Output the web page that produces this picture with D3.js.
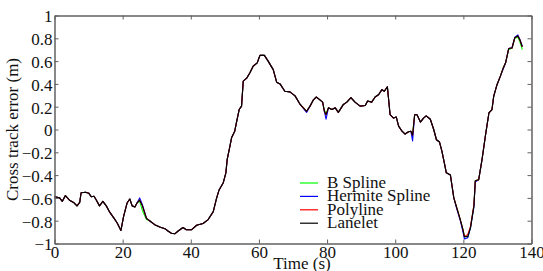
<!DOCTYPE html>
<html>
<head>
<meta charset="utf-8">
<script src="https://cdn.jsdelivr.net/npm/d3@7"></script>
<style>
  body { margin: 0; background: #fff; }
  svg { display: block; }
  text { font-family: "Liberation Serif", "DejaVu Serif", serif; }
</style>
</head>
<body>
<svg id="chart" width="543" height="271"></svg>
<script>
// time stamps (s), shared by all four series
const time = [0, 1.5, 2.3, 3.2, 4.4, 5.6, 6.6, 7.4, 7.8, 9.1, 10.1, 10.8, 11.6, 12.3, 13.2, 14.2, 15.2, 16.2, 17.4, 18.4,
  19.5, 20.3, 21.3, 22.1, 22.8, 23.6, 24.2, 25, 25.8, 27, 27.9, 29.4, 30.9, 32.4, 33.3, 34.3, 35.3, 36.3, 37.7, 38.7,
  40.2, 41.7, 43.6, 45.1, 46.6, 47.5, 48.3, 49.5, 50.3, 50.7, 51.3, 52, 52.9, 53.4, 54.2, 54.9, 55.4, 56.4, 57.4, 58.3,
  59.5, 60.3, 61.6, 62.7, 64.2, 65.2, 66.2, 67.6, 69.1, 70.6, 72.1, 74, 75, 76, 76.8, 77.9, 78.7, 79.2, 79.7, 80.4,
  81.4, 82.4, 83.3, 84.8, 85.8, 87, 88.2, 89.7, 91.2, 91.9, 93.1, 94.1, 95.1, 96.1, 96.8, 97.7, 98.5, 99.5, 100.3, 101,
  102, 102.9, 103.9, 104.6, 105.1, 105.7, 106.4, 107.4, 108.3, 109.1, 110.3, 111.3, 112.1, 113, 113.7, 114.4, 115, 116.2, 116.7, 117.2,
  118.1, 119.1, 119.9, 120.3, 121.3, 122.1, 123.1, 123.5, 124.5, 125.5, 126.5, 127.5, 128.4, 128.9, 129.9, 130.9, 131.7, 132.4, 133.3, 134.3,
  135.1, 136, 136.6, 137.3];

const bSpline = [-0.59, -0.6, -0.63, -0.58, -0.62, -0.64, -0.67, -0.64, -0.555, -0.55, -0.56, -0.59, -0.585, -0.62, -0.67, -0.63, -0.67, -0.725, -0.775, -0.82,
  -0.885, -0.76, -0.645, -0.61, -0.67, -0.68, -0.645, -0.63, -0.71, -0.79, -0.8, -0.835, -0.855, -0.87, -0.89, -0.91, -0.915, -0.89, -0.86, -0.88,
  -0.88, -0.84, -0.825, -0.79, -0.72, -0.61, -0.53, -0.47, -0.38, -0.26, -0.175, -0.07, -0.015, 0.06, 0.175, 0.205, 0.425, 0.45, 0.5, 0.555,
  0.585, 0.65, 0.65, 0.6, 0.525, 0.415, 0.4, 0.335, 0.33, 0.295, 0.22, 0.16, 0.205, 0.26, 0.285, 0.26, 0.24, 0.17, 0.14, 0.19,
  0.175, 0.19, 0.15, 0.22, 0.24, 0.28, 0.24, 0.205, 0.21, 0.25, 0.24, 0.285, 0.305, 0.35, 0.335, 0.375, 0.13, 0.1, 0.11, 0.03,
  -0.015, -0.04, -0.02, -0.015, -0.04, 0.13, 0.13, 0.065, 0.1, 0.12, 0.09, 0, -0.09, -0.11, -0.19, -0.29, -0.38, -0.4, -0.5, -0.6,
  -0.69, -0.79, -0.88, -0.94, -0.94, -0.86, -0.67, -0.45, -0.44, -0.26, -0.05, 0.145, 0.175, 0.29, 0.395, 0.47, 0.54, 0.585, 0.7, 0.715,
  0.8, 0.81, 0.77, 0.7];

const hermite = [-0.59, -0.6, -0.63, -0.58, -0.62, -0.64, -0.67, -0.64, -0.555, -0.55, -0.56, -0.59, -0.585, -0.62, -0.67, -0.63, -0.67, -0.725, -0.775, -0.82,
  -0.885, -0.76, -0.645, -0.61, -0.67, -0.68, -0.645, -0.6, -0.66, -0.78, -0.8, -0.835, -0.855, -0.87, -0.89, -0.91, -0.915, -0.89, -0.86, -0.88,
  -0.88, -0.84, -0.825, -0.79, -0.72, -0.61, -0.53, -0.47, -0.38, -0.26, -0.175, -0.07, -0.015, 0.06, 0.175, 0.205, 0.425, 0.45, 0.5, 0.555,
  0.585, 0.65, 0.65, 0.6, 0.525, 0.415, 0.4, 0.335, 0.33, 0.295, 0.22, 0.15, 0.205, 0.26, 0.285, 0.26, 0.24, 0.16, 0.09, 0.19,
  0.175, 0.19, 0.15, 0.22, 0.24, 0.28, 0.24, 0.205, 0.21, 0.25, 0.24, 0.285, 0.305, 0.35, 0.335, 0.375, 0.13, 0.1, 0.11, 0.03,
  -0.015, -0.04, -0.02, -0.015, -0.1, 0.13, 0.13, 0.065, 0.1, 0.12, 0.09, 0, -0.09, -0.11, -0.19, -0.29, -0.38, -0.4, -0.5, -0.6,
  -0.7, -0.8, -0.9, -0.96, -0.95, -0.86, -0.68, -0.46, -0.44, -0.26, -0.05, 0.145, 0.175, 0.29, 0.395, 0.47, 0.53, 0.585, 0.71, 0.72,
  0.81, 0.83, 0.79, 0.73];

const polyline = [-0.59, -0.6, -0.63, -0.58, -0.62, -0.64, -0.67, -0.64, -0.555, -0.55, -0.56, -0.59, -0.585, -0.62, -0.67, -0.63, -0.67, -0.725, -0.775, -0.82,
  -0.885, -0.76, -0.645, -0.61, -0.67, -0.68, -0.645, -0.62, -0.67, -0.78, -0.8, -0.835, -0.855, -0.87, -0.89, -0.91, -0.915, -0.89, -0.86, -0.88,
  -0.88, -0.84, -0.825, -0.79, -0.72, -0.61, -0.53, -0.47, -0.38, -0.26, -0.175, -0.07, -0.015, 0.06, 0.175, 0.205, 0.425, 0.45, 0.5, 0.555,
  0.585, 0.65, 0.65, 0.6, 0.525, 0.415, 0.4, 0.335, 0.33, 0.295, 0.22, 0.16, 0.205, 0.26, 0.285, 0.26, 0.24, 0.16, 0.13, 0.19,
  0.175, 0.19, 0.15, 0.22, 0.24, 0.28, 0.24, 0.205, 0.21, 0.25, 0.24, 0.285, 0.305, 0.35, 0.335, 0.375, 0.13, 0.1, 0.11, 0.03,
  -0.015, -0.04, -0.02, -0.015, -0.05, 0.13, 0.13, 0.065, 0.1, 0.12, 0.09, 0, -0.09, -0.11, -0.19, -0.29, -0.38, -0.4, -0.5, -0.6,
  -0.69, -0.79, -0.88, -0.94, -0.92, -0.85, -0.66, -0.45, -0.44, -0.26, -0.05, 0.145, 0.175, 0.29, 0.395, 0.47, 0.54, 0.585, 0.71, 0.715,
  0.805, 0.82, 0.785, 0.725];

const lanelet = [-0.59, -0.6, -0.63, -0.58, -0.62, -0.64, -0.67, -0.64, -0.555, -0.55, -0.56, -0.59, -0.585, -0.62, -0.67, -0.63, -0.67, -0.725, -0.775, -0.82,
  -0.885, -0.76, -0.645, -0.61, -0.67, -0.68, -0.645, -0.62, -0.67, -0.78, -0.8, -0.835, -0.855, -0.87, -0.89, -0.91, -0.915, -0.89, -0.86, -0.88,
  -0.88, -0.84, -0.825, -0.79, -0.72, -0.61, -0.53, -0.47, -0.38, -0.26, -0.175, -0.07, -0.015, 0.06, 0.175, 0.205, 0.425, 0.45, 0.5, 0.555,
  0.585, 0.65, 0.65, 0.6, 0.525, 0.415, 0.4, 0.335, 0.33, 0.295, 0.22, 0.16, 0.205, 0.26, 0.285, 0.26, 0.24, 0.16, 0.13, 0.19,
  0.175, 0.19, 0.15, 0.22, 0.24, 0.28, 0.24, 0.205, 0.21, 0.25, 0.24, 0.285, 0.305, 0.35, 0.335, 0.375, 0.13, 0.1, 0.11, 0.03,
  -0.015, -0.04, -0.02, -0.015, -0.05, 0.13, 0.13, 0.065, 0.1, 0.12, 0.09, 0, -0.09, -0.11, -0.19, -0.29, -0.38, -0.4, -0.5, -0.6,
  -0.69, -0.79, -0.88, -0.94, -0.94, -0.86, -0.67, -0.45, -0.44, -0.26, -0.05, 0.145, 0.175, 0.29, 0.395, 0.47, 0.54, 0.585, 0.71, 0.715,
  0.805, 0.82, 0.785, 0.725];

const seriesNames = ["B Spline", "Hermite Spline", "Polyline", "Lanelet"];
const seriesColors = ["#00ff00", "#0000ff", "#ff0000", "#000000"];
const seriesValues = [bSpline, hermite, polyline, lanelet];

const xTicks = [0, 20, 40, 60, 80, 100, 120, 140];
const yTicks = [-1, -0.8, -0.6, -0.4, -0.2, 0, 0.2, 0.4, 0.6, 0.8, 1];

const svg = d3.select("#chart");
const axisColor = "#606060";

const x = d3.scaleLinear().domain([0, 140]).range([54.5, 531.5]);
const y = d3.scaleLinear().domain([-1, 1]).range([243.5, 15.5]);

const fmt = d => (d === 0 ? "0" : String(d).replace("0.", "0.").replace(/^(-?)0\./, "$10."));

// lines
const line = d3
    .line()
    .x((d, i) => x(time[i]))
    .y(d => y(d));

svg.append("g")
    .attr("fill", "none")
    .selectAll("path")
    .data(seriesValues)
    .join("path")
    .attr("stroke", (d, i) => seriesColors[i])
    .attr("stroke-width", 1.1)
    .attr("stroke-linejoin", "round")
    .attr("d", d => line(d));

// frame + axes (ticks pointing inward)
const gx = svg.append("g")
    .attr("transform", `translate(0,${y(-1)})`)
    .call(d3.axisBottom(x).tickValues(xTicks).tickSizeInner(-4).tickSizeOuter(0).tickPadding(4).tickFormat(d3.format("d")));
const gxTop = svg.append("g")
    .attr("transform", `translate(0,${y(1)})`)
    .call(d3.axisTop(x).tickValues(xTicks).tickSizeInner(-4).tickSizeOuter(0).tickFormat(""));
const gy = svg.append("g")
    .attr("transform", `translate(${x(0)},0)`)
    .call(d3.axisLeft(y).tickValues(yTicks).tickSizeInner(-4).tickSizeOuter(0).tickPadding(2).tickFormat(d => d3.format("")(+d.toFixed(1))));
const gyRight = svg.append("g")
    .attr("transform", `translate(${x(140)},0)`)
    .call(d3.axisRight(y).tickValues(yTicks).tickSizeInner(-4).tickSizeOuter(0).tickFormat(""));

[gx, gxTop, gy, gyRight].forEach(g => {
    g.select(".domain").attr("stroke", axisColor).attr("stroke-width", 1.5);
    g.selectAll(".tick line").attr("stroke", axisColor).attr("stroke-width", 1);
    g.selectAll(".tick text")
        .attr("fill", "#111")
        .attr("font-family", "Liberation Serif, serif")
        .attr("font-size", 17);
});
gy.selectAll(".tick text").attr("dy", "0.38em");
gx.selectAll(".tick text").attr("dy", "0.62em");

// axis titles
svg.append("text")
    .attr("transform", `translate(18,${(y(1) + y(-1)) / 2}) rotate(-90)`)
    .attr("text-anchor", "middle")
    .attr("font-size", 17)
    .attr("fill", "#111")
    .text("Cross track error (m)");

svg.append("text")
    .attr("x", 302)
    .attr("y", 269)
    .attr("text-anchor", "middle")
    .attr("font-size", 17)
    .attr("fill", "#111")
    .text("Time (s)");

// legend
const legend = svg.append("g")
    .selectAll("g")
    .data(seriesNames)
    .join("g")
    .attr("transform", (d, i) => `translate(300,${183 + i * 13.4})`);

legend.append("line")
    .attr("x1", 0)
    .attr("x2", 18)
    .attr("stroke", (d, i) => seriesColors[i])
    .attr("stroke-width", 1.2);

legend.append("text")
    .attr("x", 27)
    .attr("y", 5)
    .attr("font-size", 17)
    .attr("fill", "#111")
    .text(d => d);
</script>
</body>
</html>
